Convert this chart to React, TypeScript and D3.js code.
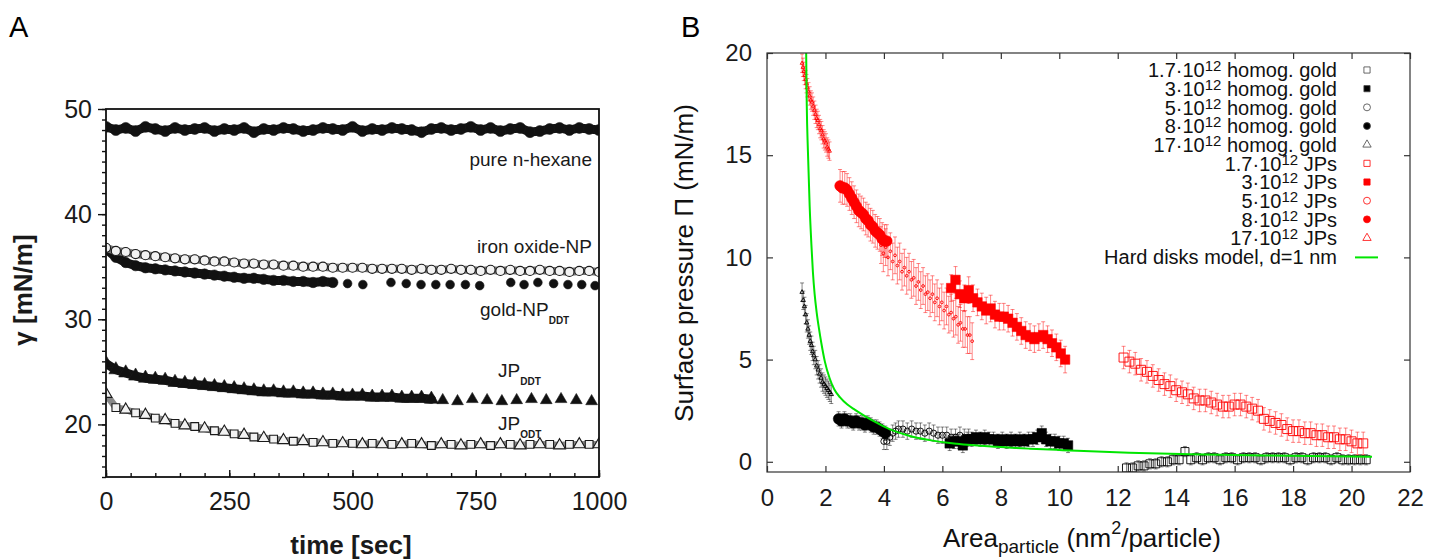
import { useEffect, useRef } from 'react';
import * as d3 from 'd3';

// ---------- Panel A: surface tension vs time ----------
const timeGrid = [0, 20, 40, 60, 80, 100, 120, 140, 160, 180, 200, 220, 240, 260, 280, 300, 320, 340, 360, 380, 400, 420, 440, 460, 480, 500, 520, 540, 560, 580, 600, 620, 640, 660, 680, 700, 720, 740, 760, 780, 800, 820, 840, 860, 880, 900, 920, 940, 960, 980, 1000];

const hexaneGamma = [48.3, 48.0, 48.2, 47.9, 48.3, 48.1, 47.9, 48.2, 48.0, 48.1, 48.2, 47.9, 48.1, 48.0, 48.2, 47.8, 48.1, 48.0, 48.2, 48.1, 47.9, 48.0, 48.2, 48.1, 48.0, 48.3, 47.9, 48.1, 48.0, 48.2, 48.1, 48.0, 47.8, 48.1, 48.2, 48.0, 48.1, 48.3, 48.0, 48.2, 47.9, 48.1, 48.2, 47.8, 47.9, 48.1, 48.2, 48.0, 48.2, 48.1, 48.0];
const ironOxideGamma = [36.8, 36.5, 36.4, 36.2, 36.1, 36.0, 35.9, 35.8, 35.7, 35.7, 35.6, 35.5, 35.5, 35.4, 35.3, 35.3, 35.2, 35.2, 35.1, 35.1, 35.0, 35.0, 35.0, 34.9, 34.9, 34.9, 34.9, 34.8, 34.8, 34.8, 34.8, 34.7, 34.8, 34.7, 34.7, 34.8, 34.7, 34.7, 34.6, 34.7, 34.6, 34.7, 34.6, 34.6, 34.7, 34.6, 34.6, 34.5, 34.6, 34.6, 34.5];
const goldDenseGamma = [36.7, 35.9, 35.4, 35.1, 34.9, 34.8, 34.7, 34.6, 34.5, 34.4, 34.3, 34.2, 34.1, 34.0, 33.9, 33.9, 33.8, 33.7, 33.7, 33.6, 33.6, 33.5, 33.6, 33.5];
const goldSparseTime = [490, 521, 578, 609, 639, 669, 698, 729, 758, 821, 848, 876, 908, 937, 965, 992];
const goldSparseGamma = [33.4, 33.3, 33.5, 33.4, 33.3, 33.3, 33.3, 33.3, 33.2, 33.5, 33.3, 33.5, 33.4, 33.3, 33.3, 33.2];
const jpDdtDenseGamma = [25.8, 25.2, 24.9, 24.6, 24.4, 24.3, 24.2, 24.0, 23.9, 23.8, 23.7, 23.6, 23.5, 23.4, 23.3, 23.2, 23.1, 23.1, 23.0, 23.0, 22.9, 22.9, 22.8, 22.8, 22.7, 22.7, 22.7, 22.6, 22.6, 22.6, 22.5, 22.5, 22.5, 22.4];
const jpDdtSparseTime = [683, 713, 743, 773, 803, 833, 863, 893, 923, 954, 985];
const jpDdtSparseGamma = [22.3, 22.2, 22.4, 22.3, 22.2, 22.3, 22.4, 22.3, 22.4, 22.3, 22.2];
const jpOdtGamma = [22.9, 21.6, 21.4, 21.1, 20.9, 20.6, 20.4, 20.1, 19.9, 19.8, 19.6, 19.4, 19.3, 19.1, 19.0, 18.8, 18.7, 18.6, 18.5, 18.4, 18.4, 18.3, 18.3, 18.2, 18.2, 18.2, 18.1, 18.2, 18.1, 18.1, 18.1, 18.2, 18.1, 18.0, 18.1, 18.1, 18.0, 18.1, 18.1, 18.0, 18.1, 18.1, 18.0, 18.1, 18.1, 18.1, 18.0, 18.1, 18.1, 18.1, 18.1];

const timeTicks = [0, 250, 500, 750, 1000];
const gammaTicks = [20, 30, 40, 50];

// ---------- Panel B: surface pressure vs area per particle ----------
// homogeneous gold
const homog1p7X = [12.3, 12.5, 12.7, 12.9, 13.1, 13.3, 13.5, 13.7, 13.9, 14.1, 14.3, 14.5, 14.7, 14.9, 15.1, 15.3, 15.5, 15.7, 15.9, 16.1, 16.3, 16.5, 16.7, 16.9, 17.1, 17.3, 17.5, 17.7, 17.9, 18.1, 18.3, 18.5, 18.7, 18.9, 19.1, 19.3, 19.5, 19.7, 19.9, 20.1, 20.3, 20.5];
const homog1p7Y = [-0.3, -0.3, -0.2, -0.2, -0.1, -0.1, 0.0, 0.0, 0.1, 0.1, 0.5, 0.1, 0.2, 0.1, 0.2, 0.2, 0.1, 0.2, 0.2, 0.1, 0.2, 0.2, 0.2, 0.1, 0.2, 0.2, 0.2, 0.2, 0.1, 0.2, 0.2, 0.1, 0.2, 0.2, 0.2, 0.1, 0.2, 0.1, 0.1, 0.1, 0.1, 0.1];
const homog3X = [6.25, 6.4, 6.55, 6.7, 6.85, 7.0, 7.15, 7.3, 7.45, 7.6, 7.75, 7.9, 8.05, 8.2, 8.35, 8.5, 8.65, 8.8, 8.95, 9.1, 9.25, 9.4, 9.55, 9.7, 9.85, 10.0, 10.15, 10.3];
const homog3Y = [0.9, 1.0, 1.0, 0.8, 1.1, 1.1, 1.2, 1.1, 1.2, 1.1, 1.1, 1.0, 1.1, 1.0, 1.1, 1.0, 1.1, 1.0, 1.1, 1.1, 1.2, 1.4, 1.1, 1.0, 1.0, 0.9, 0.9, 0.8];
const homog5X = [4.0, 4.1, 4.2, 4.3, 4.4, 4.5, 4.65, 4.8, 4.95, 5.1, 5.25, 5.4, 5.55, 5.7, 5.85, 6.0, 6.15, 6.3, 6.45, 6.6, 6.75, 6.9];
const homog5Y = [1.0, 1.0, 1.2, 1.4, 1.5, 1.6, 1.6, 1.5, 1.6, 1.5, 1.5, 1.4, 1.5, 1.4, 1.3, 1.3, 1.3, 1.2, 1.2, 1.3, 1.2, 1.2];
const homog8X = [2.45, 2.55, 2.65, 2.75, 2.85, 2.95, 3.05, 3.15, 3.25, 3.35, 3.45, 3.55, 3.65, 3.75, 3.85, 3.95, 4.05];
const homog8Y = [2.1, 2.0, 2.1, 2.0, 2.0, 1.9, 2.0, 1.9, 1.9, 1.8, 1.9, 1.8, 1.7, 1.7, 1.6, 1.5, 1.4];
const homog17X = [1.2, 1.24, 1.28, 1.32, 1.36, 1.4, 1.44, 1.48, 1.52, 1.56, 1.6, 1.65, 1.7, 1.75, 1.8, 1.85, 1.9, 1.95, 2.0, 2.05, 2.1, 2.15, 2.2];
const homog17Y = [8.3, 7.9, 7.6, 7.2, 6.8, 6.5, 6.2, 5.9, 5.7, 5.4, 5.2, 5.0, 4.7, 4.5, 4.3, 4.1, 3.9, 3.8, 3.7, 3.6, 3.5, 3.4, 3.3];
const homogErr = [0.25, 0.35, 0.4, 0.35, 0.45];

// Janus particles
const jp1p7X = [12.2, 12.4, 12.6, 12.8, 13.0, 13.2, 13.4, 13.6, 13.8, 14.0, 14.2, 14.4, 14.6, 14.8, 15.0, 15.2, 15.4, 15.6, 15.8, 16.0, 16.2, 16.4, 16.6, 16.8, 17.0, 17.2, 17.4, 17.6, 17.8, 18.0, 18.2, 18.4, 18.6, 18.8, 19.0, 19.2, 19.4, 19.6, 19.8, 20.0, 20.2, 20.4];
const jp1p7Y = [5.1, 4.9, 4.8, 4.5, 4.4, 4.2, 4.0, 3.8, 3.7, 3.5, 3.4, 3.3, 3.1, 3.0, 3.0, 2.9, 2.8, 2.7, 2.7, 2.8, 2.8, 2.7, 2.6, 2.5, 2.1, 2.0, 1.9, 1.8, 1.6, 1.5, 1.5, 1.4, 1.4, 1.3, 1.3, 1.2, 1.2, 1.1, 1.1, 1.0, 0.9, 0.9];
const jp3X = [6.3, 6.45, 6.6, 6.75, 6.9, 7.05, 7.2, 7.35, 7.5, 7.65, 7.8, 7.95, 8.1, 8.25, 8.4, 8.55, 8.7, 8.85, 9.0, 9.15, 9.3, 9.45, 9.6, 9.75, 9.9, 10.05, 10.2];
const jp3Y = [8.5, 8.9, 8.2, 8.0, 8.4, 8.0, 7.8, 7.6, 7.4, 7.5, 7.2, 7.1, 7.1, 7.0, 6.8, 6.6, 6.4, 6.2, 6.1, 6.0, 6.1, 6.2, 6.0, 5.8, 5.6, 5.3, 5.0];
const jp5X = [3.9, 3.98, 4.06, 4.14, 4.22, 4.3, 4.38, 4.46, 4.54, 4.62, 4.7, 4.78, 4.86, 4.94, 5.02, 5.1, 5.18, 5.26, 5.34, 5.42, 5.5, 5.58, 5.66, 5.74, 5.82, 5.9, 5.98, 6.06, 6.14, 6.22, 6.3, 6.38, 6.46, 6.54, 6.62, 6.7, 6.78, 6.86, 6.94, 7.02];
const jp5Y = [10.6, 10.2, 10.5, 10.0, 10.3, 9.8, 10.1, 9.6, 9.8, 9.3, 9.5, 9.1, 9.3, 8.9, 9.0, 8.6, 8.8, 8.4, 8.6, 8.2, 8.3, 8.0, 8.2, 7.8, 8.0, 7.6, 7.8, 7.4, 7.6, 7.2, 7.3, 7.0, 7.1, 6.7, 6.8, 6.5, 6.5, 6.2, 6.2, 5.9];
const jp8X = [2.5, 2.58, 2.66, 2.74, 2.82, 2.9, 2.98, 3.06, 3.14, 3.22, 3.3, 3.38, 3.46, 3.54, 3.62, 3.7, 3.78, 3.86, 3.94, 4.02, 4.1];
const jp8Y = [13.5, 13.4, 13.4, 13.3, 13.1, 12.9, 12.7, 12.5, 12.3, 12.2, 12.1, 11.9, 11.8, 11.6, 11.5, 11.3, 11.2, 11.1, 10.9, 10.8, 10.8];
const jp17X = [1.2, 1.23, 1.26, 1.29, 1.32, 1.35, 1.38, 1.42, 1.46, 1.5, 1.54, 1.58, 1.62, 1.66, 1.7, 1.74, 1.78, 1.82, 1.86, 1.9, 1.94, 1.98, 2.02, 2.06, 2.1, 2.14];
const jp17Y = [19.5, 19.3, 19.1, 18.9, 18.7, 18.5, 18.3, 18.1, 17.9, 17.7, 17.6, 17.4, 17.2, 17.0, 16.8, 16.7, 16.5, 16.3, 16.2, 16.0, 15.8, 15.7, 15.6, 15.4, 15.3, 15.2];
const jpErr = [0.55, 0.65, 0.9, 0.8, 0.45];

// hard disks model, d = 1 nm
const diskModelX = [1.34, 1.36, 1.4, 1.46, 1.52, 1.57, 1.63, 1.7, 1.78, 1.86, 1.98, 2.14, 2.3, 2.5, 2.75, 3.0, 3.28, 3.7, 4.19, 4.8, 5.56, 6.5, 7.84, 9.0, 10.11, 12.39, 14.5, 17.0, 20.7];
const diskModelY = [20.0, 17.5, 15.2, 12.5, 10.6, 9.3, 8.2, 7.3, 6.5, 5.8, 4.9, 4.1, 3.55, 3.15, 2.8, 2.55, 2.3, 1.95, 1.6, 1.3, 1.06, 0.88, 0.73, 0.64, 0.57, 0.44, 0.37, 0.31, 0.25];

const legendCoefs = ['1.7', '3', '5', '8', '17'];
const legendGroups = ['homog. gold', 'JPs'];
const modelLabel = 'Hard disks model, d=1 nm';
const areaTicks = [0, 2, 4, 6, 8, 10, 12, 14, 16, 18, 20, 22];
const pressureTicks = [0, 5, 10, 15, 20];

const FONT = '"Liberation Sans", Arial, Helvetica, sans-serif';
const zip = (xs, ys) => ys.map((v, i) => [xs[i], v]);

const styleAxis = (g, size) => {
  g.select('.domain').remove();
  g.selectAll('text').attr('font-size', size).attr('font-family', FONT).attr('fill', '#1a1a1a');
};

const drawPanelA = (root) => {
  const x = d3.scaleLinear().domain([0, 1000]).range([106, 599]);
  const y = d3.scaleLinear().domain([15, 50]).range([477, 109]);
  const [x0, x1] = x.range();
  const [y0, y1] = y.range();

  root.select('defs').append('clipPath').attr('id', 'clipA')
    .append('rect').attr('x', x0).attr('y', y1).attr('width', x1 - x0).attr('height', y0 - y1);

  const g = root.append('g');
  const plot = g.append('g').attr('clip-path', 'url(#clipA)');
  const line = d3.line().x(d => x(d[0])).y(d => y(d[1]));

  const band = (data, color, width) => plot.append('path').datum(data)
    .attr('d', line).attr('fill', 'none').attr('stroke', color)
    .attr('stroke-width', width).attr('stroke-linejoin', 'round').attr('stroke-linecap', 'round');

  const marks = (data, shapes, size, filled) => plot.append('g')
    .selectAll('path').data(data).join('path')
    .attr('transform', d => `translate(${x(d[0])},${y(d[1])})`)
    .attr('d', (d, i) => d3.symbol().type(shapes[i % shapes.length]).size(size)())
    .attr('fill', filled ? '#111' : '#f2f2f2')
    .attr('stroke', '#1a1a1a')
    .attr('stroke-width', filled ? 0.6 : 1.1);

  const hexane = zip(timeGrid, hexaneGamma);
  band(hexane, '#111', 9);
  marks(hexane, [d3.symbolCircle], 95, true);

  const goldDense = zip(timeGrid, goldDenseGamma);
  band(goldDense, '#111', 9);
  marks(goldDense, [d3.symbolCircle], 85, true);
  marks(zip(goldSparseTime, goldSparseGamma), [d3.symbolCircle], 60, true);

  const iron = zip(timeGrid, ironOxideGamma);
  band(iron, '#777', 8);
  marks(iron, [d3.symbolCircle], 65, false);

  const jpDdt = zip(timeGrid, jpDdtDenseGamma);
  band(jpDdt, '#111', 9);
  marks(jpDdt, [d3.symbolTriangle], 85, true);
  marks(zip(jpDdtSparseTime, jpDdtSparseGamma), [d3.symbolTriangle], 60, true);

  const jpOdt = zip(timeGrid, jpOdtGamma);
  band(jpOdt, '#888', 7);
  marks(jpOdt, [d3.symbolTriangle, d3.symbolSquare], 60, false);

  // axes
  g.append('g').attr('transform', `translate(${x0},0)`)
    .call(d3.axisLeft(y).tickValues(d3.range(15, 51)).tickSize(4).tickFormat(() => ''))
    .call(a => styleAxis(a, 24));
  g.append('g').attr('transform', `translate(${x0},0)`)
    .call(d3.axisLeft(y).tickValues(gammaTicks).tickSize(8).tickPadding(6).tickFormat(d3.format('d')))
    .call(a => styleAxis(a, 25));
  g.append('g').attr('transform', `translate(0,${y0})`)
    .call(d3.axisBottom(x).tickValues(d3.range(0, 1001, 50)).tickSize(-4).tickFormat(() => ''))
    .call(a => styleAxis(a, 24));
  g.append('g').attr('transform', `translate(0,${y0})`)
    .call(d3.axisBottom(x).tickValues(timeTicks).tickSize(-7).tickPadding(15).tickFormat(d3.format('d')))
    .call(a => styleAxis(a, 25));
  g.selectAll('.tick line').attr('stroke', '#111').attr('stroke-width', 1.4);

  g.append('rect').attr('x', x0).attr('y', y1).attr('width', x1 - x0).attr('height', y0 - y1)
    .attr('fill', 'none').attr('stroke', '#111').attr('stroke-width', 1.8);

  // series labels
  const lab = g.append('g').attr('font-family', FONT).attr('font-size', 19).attr('fill', '#1a1a1a');
  lab.append('text').attr('x', 592).attr('y', 166).attr('text-anchor', 'end').text('pure n-hexane');
  lab.append('text').attr('x', 592).attr('y', 253).attr('text-anchor', 'end').text('iron oxide-NP');
  const sub = (t, xPos, yPos, main, s) => {
    const el = t.append('text').attr('x', xPos).attr('y', yPos);
    el.append('tspan').text(main);
    el.append('tspan').attr('dy', 7.5).attr('font-size', 10).attr('font-weight', 'bold').text(s);
  };
  sub(lab, 480, 316, 'gold-NP', 'DDT');
  sub(lab, 498, 377, 'JP', 'DDT');
  sub(lab, 498, 430, 'JP', 'ODT');

  // axis titles
  g.append('text').attr('transform', 'translate(32,290) rotate(-90)').attr('text-anchor', 'middle')
    .attr('font-family', FONT).attr('font-weight', 'bold').attr('font-size', 26).attr('fill', '#1a1a1a')
    .text('γ [mN/m]');
  g.append('text').attr('x', 351).attr('y', 554).attr('text-anchor', 'middle')
    .attr('font-family', FONT).attr('font-weight', 'bold').attr('font-size', 26).attr('fill', '#1a1a1a')
    .text('time [sec]');
};

const drawPanelB = (root) => {
  const x = d3.scaleLinear().domain([0, 22]).range([767, 1410]);
  const y = d3.scaleLinear().domain([-0.5, 20]).range([472, 53]);
  const [x0, x1] = x.range();
  const [y0, y1] = y.range();

  root.select('defs').append('clipPath').attr('id', 'clipB')
    .append('rect').attr('x', x0).attr('y', y1).attr('width', x1 - x0).attr('height', y0 - y1);

  const g = root.append('g');
  const plot = g.append('g').attr('clip-path', 'url(#clipB)');

  const shapes = [d3.symbolSquare, d3.symbolSquare, d3.symbolCircle, d3.symbolCircle, d3.symbolTriangle];
  const filled = [false, true, false, true, false];
  const homogSize = [64, 90, 30, 90, 8];
  const jpSize = [81, 90, 6, 90, 6];
  const homogData = [[homog1p7X, homog1p7Y], [homog3X, homog3Y], [homog5X, homog5Y], [homog8X, homog8Y], [homog17X, homog17Y]];
  const jpData = [[jp1p7X, jp1p7Y], [jp3X, jp3Y], [jp5X, jp5Y], [jp8X, jp8Y], [jp17X, jp17Y]];

  const series = [];
  homogData.forEach((d, i) => series.push({ pts: zip(d[0], d[1]), err: homogErr[i], size: homogSize[i], color: '#000', k: i, label: legendGroups[0], coef: legendCoefs[i] }));
  jpData.forEach((d, i) => series.push({ pts: zip(d[0], d[1]), err: jpErr[i], size: jpSize[i], color: '#f00', k: i, label: legendGroups[1], coef: legendCoefs[i] }));

  series.forEach(s => {
    const sg = plot.append('g');
    sg.append('path')
      .attr('d', s.pts.map(p => {
        const px = x(p[0]);
        const ya = y(p[1] + s.err);
        const yb = y(p[1] - s.err);
        return `M${px},${ya}V${yb}M${px - 2},${ya}h4M${px - 2},${yb}h4`;
      }).join(''))
      .attr('stroke', s.color).attr('stroke-width', 0.6).attr('fill', 'none').attr('opacity', 0.8);
    sg.selectAll('path.pt').data(s.pts).join('path').attr('class', 'pt')
      .attr('transform', p => `translate(${x(p[0])},${y(p[1])})`)
      .attr('d', d3.symbol().type(shapes[s.k]).size(s.size)())
      .attr('fill', filled[s.k] ? s.color : 'none')
      .attr('stroke', s.color).attr('stroke-width', filled[s.k] ? 0.5 : 0.9);
  });

  const model = zip(diskModelX, diskModelY);
  plot.append('path').datum(model)
    .attr('d', d3.line().x(d => x(d[0])).y(d => y(d[1])).curve(d3.curveMonotoneX))
    .attr('fill', 'none').attr('stroke', '#00e600').attr('stroke-width', 2);

  // axes (gnuplot style: inward ticks on all four sides)
  g.append('g').attr('transform', `translate(0,${y0})`)
    .call(d3.axisBottom(x).tickValues(areaTicks).tickSize(-6).tickPadding(17))
    .call(a => styleAxis(a, 24));
  g.append('g').attr('transform', `translate(0,${y1})`)
    .call(d3.axisTop(x).tickValues(areaTicks).tickSize(-6).tickFormat(() => ''))
    .call(a => styleAxis(a, 24));
  g.append('g').attr('transform', `translate(${x0},0)`)
    .call(d3.axisLeft(y).tickValues(pressureTicks).tickSize(-6).tickPadding(15))
    .call(a => styleAxis(a, 24));
  g.append('g').attr('transform', `translate(${x1},0)`)
    .call(d3.axisRight(y).tickValues(pressureTicks).tickSize(-6).tickFormat(() => ''))
    .call(a => styleAxis(a, 24));
  g.selectAll('.tick line').attr('stroke', '#333').attr('stroke-width', 1.2);

  g.append('rect').attr('x', x0).attr('y', y1).attr('width', x1 - x0).attr('height', y0 - y1)
    .attr('fill', 'none').attr('stroke', '#333').attr('stroke-width', 1.2);

  // legend
  const leg = g.append('g').attr('font-family', FONT).attr('font-size', 20).attr('fill', '#111');
  series.forEach((s, i) => {
    const by = 77.3 + i * 18.67;
    const t = leg.append('text').attr('x', 1337).attr('y', by).attr('text-anchor', 'end');
    t.append('tspan').text(`${s.coef}·10`);
    t.append('tspan').attr('dy', -6).attr('font-size', 15).text('12');
    t.append('tspan').attr('dy', 6).text(` ${s.label}`);
    leg.append('path')
      .attr('transform', `translate(1367,${by - 7.3})`)
      .attr('d', d3.symbol().type(shapes[s.k]).size(s.k === 4 ? 30 : 38)())
      .attr('fill', filled[s.k] ? s.color : 'none')
      .attr('stroke', s.color === '#000' ? '#444' : s.color).attr('stroke-width', 0.8);
  });
  const my = 77.3 + 10 * 18.67;
  leg.append('text').attr('x', 1337).attr('y', my).attr('text-anchor', 'end').text(modelLabel);
  leg.append('line').attr('x1', 1355).attr('x2', 1378).attr('y1', my - 6.6).attr('y2', my - 6.6)
    .attr('stroke', '#00e600').attr('stroke-width', 2);

  // axis titles
  g.append('text').attr('transform', 'translate(693,263) rotate(-90)').attr('text-anchor', 'middle')
    .attr('font-family', FONT).attr('font-size', 26).attr('fill', '#111')
    .text('Surface pressure Π (mN/m)');
  const xt = g.append('text').attr('x', 943).attr('y', 547)
    .attr('font-family', FONT).attr('font-size', 26).attr('fill', '#111');
  xt.append('tspan').text('Area');
  xt.append('tspan').attr('dy', 6).attr('font-size', 19).text('particle');
  xt.append('tspan').attr('dy', -6).text(' (nm');
  xt.append('tspan').attr('dy', -13).attr('font-size', 18).text('2');
  xt.append('tspan').attr('dy', 13).text('/particle)');
};

const App = () => {
  const svgRef = useRef(null);

  useEffect(() => {
    const root = d3.select(svgRef.current);
    root.selectAll('*').remove();
    root.append('defs');
    root.append('rect').attr('width', 1432).attr('height', 559).attr('fill', '#fff');

    drawPanelA(root);
    drawPanelB(root);

    // panel letters
    root.append('text').attr('x', 9).attr('y', 37).attr('font-family', FONT).attr('font-size', 29).text('A');
    root.append('text').attr('x', 681).attr('y', 37).attr('font-family', FONT).attr('font-size', 29).text('B');
  }, []);

  return (
    <svg ref={svgRef} width={1432} height={559}
      style={{ position: 'absolute', left: 0, top: 0, display: 'block' }} />
  );
};

export default App;
